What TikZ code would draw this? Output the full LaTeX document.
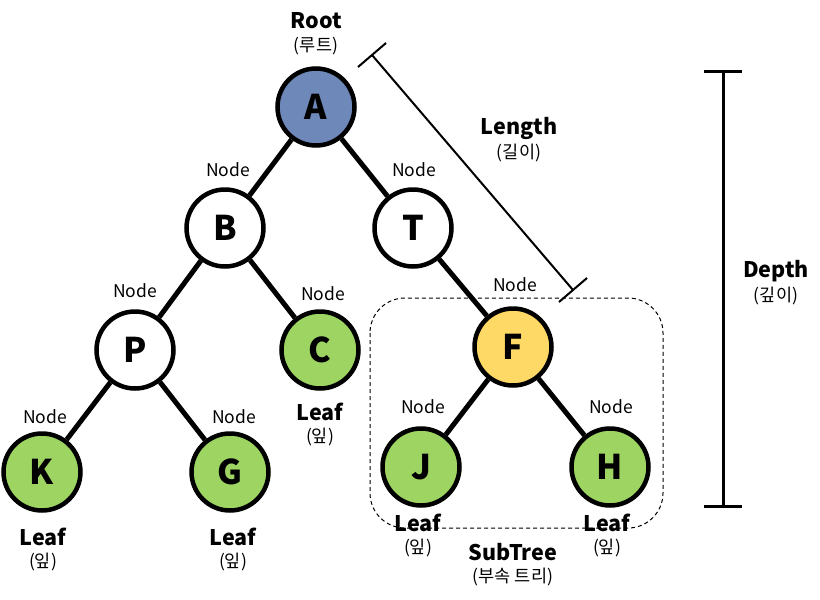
\documentclass[tikz,border=0pt]{standalone}
\usepackage{fontspec}
\setmainfont{Noto Sans CJK KR}
\definecolor{rootblue}{RGB}{111,136,186}
\definecolor{leafgreen}{RGB}{158,213,98}
\definecolor{subyellow}{RGB}{255,217,102}
\begin{document}
\begin{tikzpicture}[x=1pt,y=-1pt,
  tn/.style={circle, draw=black, line width=4.5pt, minimum size=77pt, inner sep=0pt, fill=white,
    font=\bfseries\fontsize{34}{34}\selectfont},
  leafn/.style={tn, fill=leafgreen},
  edge/.style={line width=5pt},
  small/.style={font=\fontsize{17.5}{19}\selectfont, inner sep=0pt},
  big/.style={font=\bfseries\fontsize{21.5}{23}\selectfont, inner sep=0pt}]
\useasboundingbox (0,0) rectangle (820,600);

% subtree box
\draw[dashed, dash pattern=on 4pt off 3pt, line width=1pt, rounded corners=35pt] (370,298) rectangle (663,528);

% tree nodes
\node[tn, fill=rootblue] (A) at (316,107) {A};
\node[tn] (B) at (225,228) {B};
\node[tn] (T) at (413,228) {T};
\node[tn] (P) at (135,350) {P};
\node[leafn] (C) at (320,350) {C};
\node[tn, fill=subyellow] (F) at (513,347) {F};
\node[leafn] (K) at (42,472) {K};
\node[leafn] (G) at (230,472) {G};
\node[leafn] (J) at (421,467) {J};
\node[leafn] (H) at (610,467) {H};

% edges
\draw[edge] (A) -- (B);
\draw[edge] (A) -- (T);
\draw[edge] (B) -- (P);
\draw[edge] (B) -- (C);
\draw[edge] (T) -- (F);
\draw[edge] (P) -- (K);
\draw[edge] (P) -- (G);
\draw[edge] (F) -- (J);
\draw[edge] (F) -- (H);

% node labels
\node[small] (nB) at (228,170) {Node};
\node[small] (nT) at (414,170) {Node};
\node[small] (nP) at (135,291) {Node};
\node[small] (nC) at (323,294) {Node};
\node[small] (nF) at (515,285) {Node};
\node[small] (nK) at (45,417) {Node};
\node[small] (nG) at (234,417) {Node};
\node[small] (nJ) at (423,407) {Node};
\node[small] (nH) at (611,407) {Node};

% leaf labels
\node[big] (lC) at (320,412) {Leaf};
\node[small] (kC) at (320,437) {(잎)};
\node[big] (lK) at (43,537) {Leaf};
\node[small] (kK) at (43,562) {(잎)};
\node[big] (lG) at (233,537) {Leaf};
\node[small] (kG) at (233,562) {(잎)};
\node[big] (lJ) at (418,523) {Leaf};
\node[small] (kJ) at (418,548) {(잎)};
\node[big] (lH) at (607,523) {Leaf};
\node[small] (kH) at (607,548) {(잎)};

% other labels
\node[big] (root) at (316,21) {Root};
\node[small] (rootk) at (316,46) {(루트)};
\node[big] (len) at (519,128) {Length};
\node[small] (lenk) at (519,153) {(길이)};
\node[big] (dep) at (776,271) {Depth};
\node[small] (depk) at (776,296) {(깊이)};
\node[big] (sub) at (513,552) {SubTree};
\node[small] (subk) at (513,577) {(부속 트리)};

% length measure
\coordinate (l1) at (372,55);
\coordinate (l2) at (573,290);
\coordinate (l1a) at (358,67);
\coordinate (l1b) at (386,43);
\coordinate (l2a) at (559,302);
\coordinate (l2b) at (587,278);
\draw[line width=2pt] (l1) -- (l2);
\draw[line width=2pt] (l1a) -- (l1b);
\draw[line width=2pt] (l2a) -- (l2b);

% depth measure
\coordinate (d1) at (723,71);
\coordinate (d2) at (723,506);
\coordinate (d1a) at (704,71);
\coordinate (d1b) at (742,71);
\coordinate (d2a) at (704,506);
\coordinate (d2b) at (742,506);
\draw[line width=3pt] (d1) -- (d2);
\draw[line width=3pt] (d1a) -- (d1b);
\draw[line width=3pt] (d2a) -- (d2b);
\end{tikzpicture}
\end{document}
